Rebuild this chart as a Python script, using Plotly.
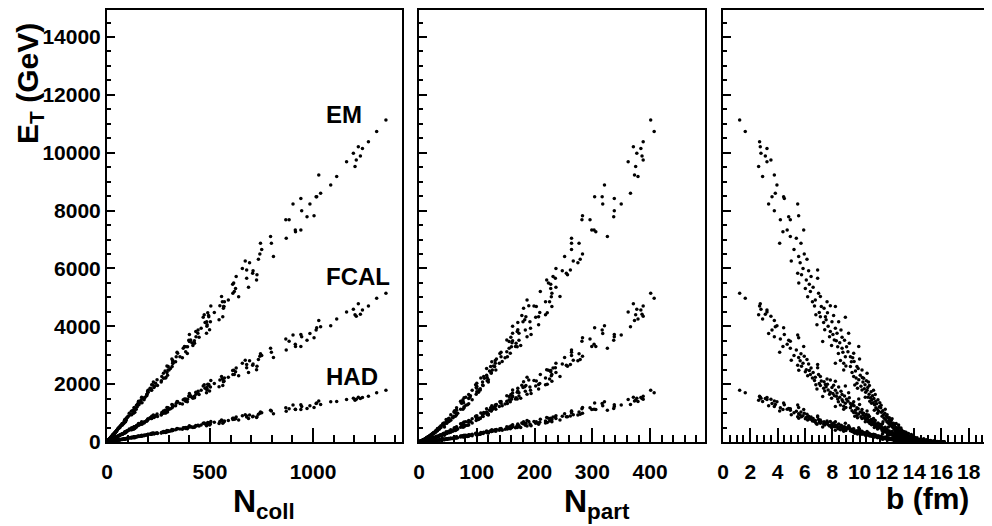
import plotly.graph_objects as go

# ---- per-event values (same events in each panel) ----
b_fm = [1.22,1.63,2.68,2.73,3.22,2.78,3.10,3.22,3.51,2.61,2.90,3.34,
        3.76,3.95,3.83,3.59,4.49,4.44,3.76,4.20,4.39,4.15,
        4.81,4.93,5.47,5.54,4.93,5.37,5.00,5.54,5.47,5.71,4.70,5.20,
        5.91,5.86,6.15,6.27,6.03,6.40,5.65,6.10,5.95,6.32,5.75,6.45,6.20,5.55,
        6.93,6.93,7.00,6.76,7.13,7.13,7.50,7.37,6.88,7.30,6.60,6.70,7.05,7.20,6.55,7.40,6.80,7.45,
        7.62,7.86,8.23,7.98,8.47,7.86,8.23,8.30,8.23,7.70,8.05,7.55,8.40,8.15,7.80,8.35,7.95,8.10,7.65,8.45,
        8.64,8.72,8.96,9.20,8.72,8.96,9.33,8.84,8.84,9.33,9.57,8.55,9.05,9.40,8.90,9.15,9.45,8.60,9.25,9.00,9.50,8.78,
        9.94,9.81,10.18,9.57,9.94,10.30,10.55,9.81,10.18,9.70,10.05,10.40,9.60,10.10,10.45,9.90,10.25,9.75,10.35,10.00,10.50,9.85,10.20,10.42,9.65,
        10.60,10.70,10.80,10.90,11.00,11.10,11.20,11.30,11.40,10.65,10.75,10.85,10.95,11.05,11.15,11.25,11.35,11.45,10.55,10.72,10.88,11.02,11.18,11.32,11.48,10.62,11.08,
        11.55,11.60,11.65,11.70,11.75,11.80,11.85,11.90,11.95,12.00,12.05,12.10,12.15,12.20,12.25,12.30,12.35,12.40,12.45,12.50,11.58,11.72,11.88,12.02,12.18,12.32,12.48,11.68,12.12,12.38,
        12.55,12.58,12.62,12.65,12.70,12.72,12.76,12.80,12.83,12.86,12.90,12.93,12.96,13.00,13.03,13.06,13.10,13.13,13.16,13.20,13.23,13.26,13.30,13.33,13.36,13.40,13.43,13.46,13.50,12.68,12.88,13.08,13.28,
        13.52,13.55,13.58,13.61,13.64,13.67,13.70,13.73,13.76,13.79,13.82,13.85,13.88,13.91,13.94,13.97,14.00,14.03,14.06,14.09,14.12,14.15,14.18,14.21,14.24,14.27,14.30,14.35,14.40,14.45,
        14.50,14.55,14.60,14.65,14.70,14.75,14.80,14.85,14.90,14.95,15.00,15.05,15.10,15.15,15.20,15.25,15.30,15.35,15.40,15.45,15.50,15.60,15.70,15.80,15.90,16.00,16.10,16.20]

n_part = [401,407,388,371,384,377,386,362,388,375,379,318,
          373,321,366,317,338,304,338,296,306,264,
          337,282,350,283,326,264,267,252,255,277,303,264,
          299,237,279,248,228,210,275,221,283,228,257,232,229,224,
          262,236,230,187,244,185,207,171,207,156,237,199,209,203,219,181,219,171,
          226,190,230,180,192,170,193,162,139,162,194,183,170,152,187,162,176,178,222,140,
          184,159,202,173,156,142,153,132,133,124,158,161,160,126,173,152,125,132,168,129,149,142,
          167,131,127,112,120,113,125,100,106,122,117,98,144,100,103,117,120,107,106,134,118,100,118,81,110,
          99,99,78,92,73,84,65,76,61,110,76,100,89,86,86,86,76,78,92,111,74,104,72,67,77,88,65,
          78,61,60,62,65,52,64,47,63,47,58,43,55,42,52,38,48,36,43,32,81,49,72,55,59,50,48,41,44,51,
          42,30,37,25,36,32,22,35,28,43,27,29,21,29,35,25,26,22,30,18,24,24,16,23,21,28,15,19,21,44,38,31,28,
          21,15,24,13,17,12,19,10,16,22,12,14,8,18,9,13,12,8,14,10,5,11,7,13,5,9,7,4,10,4,
          9,4,7,4,11,3,6,5,8,3,4,6,3,2,5,3,3,2,2,4,3,2,2,2,2,2,2,2]

n_coll = [1354,1309,1269,1220,1240,1196,1230,1163,1210,1204,1115,985,
          1028,1086,1037,1015,941,1018,945,868,915,798,
          971,884,903,1005,794,870,671,808,707,745,914,751,
          941,657,735,709,624,618,692,726,742,610,728,627,639,615,
          678,678,611,589,556,562,494,476,486,400,687,504,521,567,570,565,472,498,
          560,548,567,484,502,431,457,424,319,485,400,544,383,406,432,441,417,493,489,390,
          442,447,467,483,370,336,354,320,301,297,343,412,391,333,397,382,291,319,425,291,366,340,
          376,316,296,266,243,275,274,236,214,282,294,217,320,231,200,308,225,284,214,315,264,209,286,168,222,
          228,194,183,166,164,155,131,142,118,263,153,197,193,178,193,149,180,147,199,245,153,217,161,108,170,184,129,
          133,135,104,123,120,94,129,87,102,90,98,82,85,77,84,65,82,60,74,53,143,87,135,115,97,93,80,73,63,93,
          72,47,57,40,62,46,34,52,44,69,39,48,29,41,59,36,38,30,44,27,35,33,21,35,27,41,21,24,30,75,61,49,44,
          28,19,34,16,22,14,24,11,20,30,13,18,8,23,10,16,15,9,18,12,5,13,8,17,6,10,8,5,11,4,
          11,5,8,4,13,4,7,5,9,3,4,6,3,2,6,3,3,2,2,5,3,1,2,1,2,1,1,1]

et_em = [11130,10730,10380,10210,10150,9980,9890,9690,9750,9520,9180,8230,
         9230,8880,8600,8480,8420,8480,7990,7680,7270,6870,
         7790,7680,8230,7820,7100,7040,6260,6410,5830,6870,7330,6650,
         7330,6000,6320,5920,5310,5200,6200,5600,6500,5450,5780,5720,5020,5500,
         5950,5660,5140,4910,5030,4330,4330,4130,4050,3470,5350,4700,4480,4680,4850,4620,4400,3880,
         4850,4710,4680,4160,4160,3820,3930,3500,2720,4000,3720,4230,3290,3530,3640,3760,3340,4370,4470,3060,
         3870,3620,4310,3760,3240,2950,2950,2720,2490,2610,3070,3430,3290,2770,3520,3120,2400,2820,3410,2630,2910,3100,
         3300,2610,2490,2260,2150,2200,2380,2030,1800,2450,2310,1980,2780,1930,1720,2540,2070,2210,1840,2870,2120,1860,2230,1550,1970,
         1880,1650,1530,1460,1360,1290,1180,1130,1060,2070,1410,1740,1600,1500,1640,1320,1460,1220,1790,1950,1340,1790,1410,990,1360,1550,1100,
         1180,1030,890,1080,940,820,990,780,890,700,850,660,750,610,710,560,660,520,590,470,1270,700,1130,940,840,750,650,630,520,800,
         580,400,490,320,500,390,270,440,360,590,315,390,250,345,480,290,325,240,370,215,300,265,185,280,230,335,170,205,255,640,500,415,355,
         240,160,290,140,185,120,205,95,170,255,115,150,70,195,90,135,125,75,155,100,45,110,65,145,50,85,70,40,95,35,
         90,40,70,35,110,30,60,45,80,25,35,55,30,20,50,25,30,15,20,40,25,15,20,10,15,10,12,8]

et_fcal = [5140,4970,4700,4780,4560,4590,4420,4490,4350,4400,4250,3750,
           4200,4020,3980,3870,3720,3950,3640,3560,3300,3100,
           3520,3480,3700,3600,3240,3180,2830,2920,2650,3050,3380,2990,
           3300,2720,2850,2700,2430,2330,2810,2500,2960,2470,2620,2560,2290,2480,
           2680,2570,2330,2240,2260,1950,1990,1860,1830,1570,2400,2130,2020,2110,2210,2080,1980,1760,
           2180,2140,2100,1880,1900,1720,1790,1580,1230,1800,1680,1910,1490,1600,1650,1690,1510,1960,2000,1390,
           1750,1640,1940,1700,1460,1340,1330,1240,1130,1180,1390,1550,1480,1250,1590,1410,1080,1280,1530,1190,1310,1400,
           1490,1180,1120,1020,970,990,1070,910,810,1100,1040,890,1250,870,780,1150,930,1000,830,1300,950,840,1010,700,890,
           850,740,690,660,610,580,530,510,480,930,640,780,720,680,740,590,660,550,800,880,600,810,630,450,610,700,500,
           530,470,400,490,420,370,440,350,400,320,380,300,340,275,320,250,300,235,265,210,570,320,510,420,380,340,290,280,235,360,
           260,185,215,150,230,170,125,195,165,270,140,180,110,155,210,135,145,105,170,100,130,120,80,130,100,150,80,95,110,285,230,190,155,
           110,70,130,65,85,55,90,45,75,115,50,70,30,90,40,60,55,35,70,45,20,50,30,65,25,40,30,20,45,15,
           40,20,30,15,50,15,25,20,35,10,15,25,15,10,20,10,15,8,10,20,10,7,9,5,7,5,5,4]

et_had = [1790,1700,1580,1550,1540,1510,1500,1470,1480,1440,1400,1250,
          1420,1390,1300,1330,1290,1350,1230,1180,1120,1070,
          1160,1150,1280,1190,1100,1060,940,980,870,1040,1130,1010,
          1120,910,960,890,800,790,930,850,990,820,870,860,760,820,
          900,860,780,740,760,650,660,620,610,520,810,710,680,700,730,700,660,590,
          730,710,700,630,620,570,590,530,410,600,560,640,500,530,550,570,500,660,670,460,
          580,550,650,560,490,440,450,410,370,390,460,520,490,420,530,470,360,420,510,400,440,470,
          490,390,370,340,320,330,360,300,270,360,350,300,410,290,260,380,310,330,280,430,320,280,340,230,300,
          280,250,230,220,200,190,180,170,160,310,210,260,240,230,250,200,220,180,270,290,200,270,210,150,200,230,170,
          180,150,130,160,140,120,150,115,135,105,125,100,110,92,106,84,98,78,88,70,190,105,170,140,126,112,97,95,78,120,
          90,58,76,46,78,56,42,64,55,86,48,60,36,50,74,45,47,37,57,31,46,38,29,41,36,52,25,32,39,94,73,64,51,
          36,24,44,21,28,18,31,14,26,38,17,23,11,29,14,20,19,11,23,15,7,17,10,22,8,13,11,6,14,5,
          13,6,10,5,16,5,9,7,12,4,5,8,4,3,7,4,4,2,3,6,4,2,3,2,2,2,2,1]

band_labels = ["EM", "FCAL", "HAD"]
ncoll_ticks = [0, 500, 1000]
npart_ticks = [0, 100, 200, 300, 400]
b_ticks = [0, 2, 4, 6, 8, 10, 12, 14, 16, 18]

# the page has an 8 px body margin, so the figure is laid out in window pixels minus 8
OFF = 8
W, H = 992 - OFF, 526 - OFF
FONT = "Liberation Sans, Arial, Helvetica, sans-serif"

fig = go.Figure()
marker = dict(color="black", size=3.5, line=dict(width=0))
for xs, xa, ya in [(n_coll, "x", "y"), (n_part, "x2", "y2"), (b_fm, "x3", "y3")]:
    for ys in (et_em, et_fcal, et_had):
        fig.add_trace(go.Scatter(x=xs, y=ys, mode="markers", marker=marker,
                                 xaxis=xa, yaxis=ya, showlegend=False, hoverinfo="skip"))

def px_x(p):
    return (p - OFF) / W

def px_y(p):
    return 1 - (p - OFF) / H

Y0, YTOP = 442, 9.5
ymax = 14000 * (Y0 - YTOP) / (Y0 - 37)
ydom = [px_y(Y0), px_y(YTOP)]
common = dict(showgrid=False, zeroline=False, showline=True, linecolor="black",
              linewidth=2, ticks="inside", tickcolor="black", tickwidth=1.5,
              automargin=False)
tfont = dict(family=FONT, size=21, color="black", weight="bold")

def minor(dt, ln):
    return dict(dtick=dt, ticklen=ln, ticks="inside", tickcolor="black", tickwidth=1.5)

fig.update_layout(
    width=W, height=H, margin=dict(l=0, r=0, t=0, b=0, autoexpand=False),
    paper_bgcolor="white", plot_bgcolor="white", showlegend=False,
    xaxis=dict(domain=[px_x(107), px_x(402)], range=[0, 1432], anchor="y",
               tickvals=ncoll_ticks, tickformat="d", ticklen=14, mirror=True, tickfont=tfont,
               ticklabelstandoff=10, minor=minor(100, 7), **common),
    xaxis2=dict(domain=[px_x(419), px_x(705)], range=[0, 495], anchor="y2",
                tickvals=npart_ticks, tickformat="d", ticklen=14, mirror=True, tickfont=tfont,
                ticklabelstandoff=10, minor=minor(20, 7), **common),
    xaxis3=dict(domain=[px_x(723), 1.0], range=[0, 19.7], anchor="y3",
                tickvals=b_ticks, tickformat="d", ticklen=14, mirror=True, tickfont=tfont,
                ticklabelstandoff=10, minor=minor(0.5, 7), **common),
    yaxis=dict(domain=ydom, range=[0, ymax], anchor="x", dtick=2000, tickformat="d",
               ticklen=8, mirror=True, tickfont=tfont, minor=minor(500, 4), **common),
    yaxis2=dict(domain=ydom, range=[0, ymax], anchor="x2", dtick=2000, ticklen=8,
                mirror=True, showticklabels=False, minor=minor(500, 4), **common),
    yaxis3=dict(domain=ydom, range=[0, ymax], anchor="x3", dtick=2000, ticklen=8,
                mirror=False, showticklabels=False, minor=minor(500, 4), **common),
)

def ann(text, x, y, size, xanchor="left", yanchor="middle", angle=0):
    fig.add_annotation(text=text, x=px_x(x), y=px_y(y), xref="paper", yref="paper",
                       xanchor=xanchor, yanchor=yanchor, textangle=angle, showarrow=False,
                       font=dict(family=FONT, size=size, color="black", weight="bold"))

ann("E<sub>T</sub> (GeV)", 29, 84, 30, xanchor="center", angle=-90)
ann("N<sub>coll</sub>", 231, 503, 32)
ann("N<sub>part</sub>", 562, 503, 32)
ann("b (fm)", 884, 498, 30)
ann(band_labels[0], 324, 114, 24)
ann(band_labels[1], 324, 276, 24)
ann(band_labels[2], 324, 376, 24)

fig.write_html("out.html")
